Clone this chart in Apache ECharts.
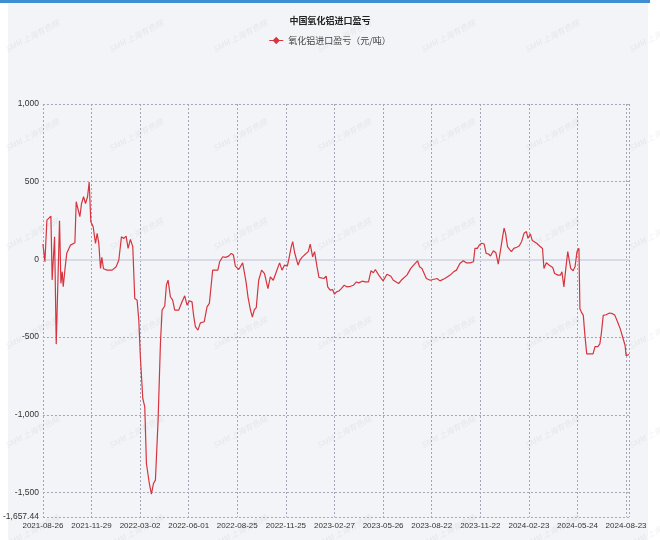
<!DOCTYPE html>
<html>
<head>
<meta charset="utf-8">
<script src="https://cdn.jsdelivr.net/npm/echarts@6.0.0/dist/echarts.min.js"></script>
<style>
    body { margin: 0; background: #ffffff; }
    #wrap { position: relative; width: 660px; height: 540px; }
    #topbar { position: absolute; left: 0; top: 0; width: 650px; height: 3px; background: #3d8ed3; }
    #panel { position: absolute; left: 8px; top: 3px; width: 640px; height: 537px; background: #f3f4f7; }
    #main { position: absolute; left: 0; top: 0; width: 660px; height: 540px; }
</style>
</head>
<body>
<div id="wrap">
    <div id="topbar"></div>
    <div id="panel"></div>
    <div id="main"></div>
</div>
<script>
// x 轴标签（等间距交易日）
var dateLabels = ['2021-08-26', '2021-11-29', '2022-03-02', '2022-06-01', '2022-08-25', '2022-11-25',
    '2023-02-27', '2023-05-26', '2023-08-22', '2023-11-22', '2024-02-23', '2024-05-24', '2024-08-23'];
var xTicks = [0, 1, 2, 3, 4, 5, 6, 7, 8, 9, 10, 11, 12, 12.06];
var yTicks = [-1657.44, -1500, -1000, -500, 0, 500, 1000];

// 位置（以标签间隔为单位）
var xPos = [0, 0.041, 0.082, 0.123, 0.164, 0.19, 0.24, 0.274, 0.315, 0.342, 0.37, 0.397, 0.418, 0.452, 0.49,
    0.568, 0.658, 0.685, 0.719, 0.76, 0.795, 0.836, 0.877, 0.918, 0.952, 0.986, 1.034, 1.082, 1.116, 1.15,
    1.185, 1.212, 1.247, 1.32, 1.425, 1.507, 1.562, 1.616, 1.664, 1.712, 1.753, 1.8, 1.849, 1.89, 1.938,
    1.973, 2.007, 2.055, 2.096, 2.13, 2.19, 2.233, 2.274, 2.315, 2.37, 2.418, 2.452, 2.507, 2.541, 2.575,
    2.623, 2.67, 2.712, 2.795, 2.863, 2.918, 2.966, 3.014, 3.068, 3.1, 3.137, 3.19, 3.24, 3.32, 3.377,
    3.425, 3.466, 3.493, 3.6, 3.637, 3.7, 3.76, 3.82, 3.877, 3.92, 3.96, 4.03,
    4.07, 4.11, 4.14, 4.18, 4.22, 4.27, 4.31, 4.35, 4.39, 4.44, 4.46, 4.5, 4.56, 4.63, 4.68, 4.74, 4.79,
    4.83, 4.87, 4.92, 4.97, 5.03, 5.07, 5.11, 5.14, 5.18, 5.21, 5.25, 5.29, 5.33, 5.38, 5.42, 5.46, 5.5,
    5.55, 5.59, 5.64, 5.68, 5.72, 5.78, 5.83, 5.86, 5.91, 5.96, 6.0, 6.04, 6.09, 6.14, 6.18, 6.2, 6.26,
    6.33, 6.39, 6.45, 6.5, 6.57, 6.63, 6.70, 6.75, 6.80, 6.84, 6.91, 7.0, 7.08, 7.16, 7.21, 7.32, 7.39,
    7.49, 7.57, 7.66, 7.71, 7.75, 7.80, 7.89, 7.97, 8.11, 8.17, 8.27, 8.38, 8.45, 8.51, 8.58, 8.65, 8.71,
    8.79, 8.86, 8.89, 8.94, 8.98, 9.03, 9.08, 9.12, 9.17, 9.21, 9.27, 9.32, 9.37, 9.40, 9.46, 9.49, 9.52,
    9.56, 9.60, 9.64, 9.69, 9.75, 9.80, 9.85, 9.90, 9.95, 9.98, 10.03, 10.07, 10.16, 10.22, 10.28, 10.31,
    10.36, 10.42, 10.49, 10.53, 10.60, 10.65, 10.68, 10.72, 10.76, 10.80, 10.83, 10.86, 10.91, 10.95,
    10.99, 11.03, 11.05, 11.08, 11.12, 11.15, 11.19, 11.22, 11.32, 11.36, 11.42, 11.46, 11.49, 11.53,
    11.59, 11.66, 11.72, 11.77, 11.80, 11.84, 11.88, 11.92, 11.95, 11.98, 12.0, 12.04, 12.06];

// 氧化铝进口盈亏（元/吨）
var profit = [99, -15, 253, 253, 279, -133, 146, -545, -545, 249, -154, -79, -176, -69, 39,
    92, 107, 371, 371, 275, 360, 403, 360, 403, 498, 242, 210, 103, 167, 103,
    -58, 13, -60, -69, -69, -47, -4, 146, 135, 150, 71, 129, 82, -251, -262,
    -390, -637, -895, -949, -1313, -1442, -1510, -1442, -1420, -1034, -541, -326, -300, -165, -133,
    -240, -262, -326, -326, -273, -234, -294, -266, -273, -358, -433, -455, -408, -401, -305,
    -283, -155, -69, -69, -15, 17, 13, 21, 39, 28, -43, -65,
    -73, -22, -30, -145, -242, -324, -371, -324, -310, -134, -138, -69, -91, -188, -112, -134, -91,
    -80, -22, -69, -37, -43, 17, 82, 114, 43, 39, -37, -4, 13, 28, 17, 50, 99,
    17, 50, -47, -116, -108, -123, -108, -177, -198, -194, -224, -209, -203, -188, -198, -166, -177,
    -173, -166, -145, -151, -140, -145, -145, -73, -86, -65, -101, -138, -95, -108, -134, -155, -129,
    -101, -58, -26, -9, -47, -58, -123, -134, -123, -138, -123, -101, -80, -69, -26, -9, -22,
    -22, -15, 71, 71, 93, 104, 99, 39, 35, 22, 56, 43, -30, 28, 147, 201, 168,
    82, 65, 50, 71, 78, 86, 114, 168, 179, 136, 164, 121, 104, 86, 70, -58,
    -22, -37, -52, -91, -101, -101, -80, -177, -58, 50, -4, -58, -73, -47,
    50, 71, -317, -339, -360, -479, -608, -604, -608, -561, -561, -544, -479, -360,
    -356, -345, -349, -360, -371, -414, -447, -453, -522, -554, -619, -608, -612];

var seriesData = xPos.map(function (x, i) { return [x, profit[i]]; });

var labelFont = "'Liberation Sans', sans-serif";
var gridLine = { show: true, lineStyle: { color: '#a3a6b8', width: 1, type: [2, 2] } };

// 水印
var marks = [];
for (var r = 0; r < 6; r++) {
    for (var c = 0; c < 7; c++) {
        marks.push({
            type: 'text',
            x: 32 + c * 104,
            y: 36 + r * 99,
            rotation: 0.48,
            silent: true,
            z: -10,
            style: {
                text: 'SMM 上海有色网',
                fill: 'rgba(140,140,155,0.13)',
                font: 'italic 8px "Noto Sans CJK SC"',
                align: 'center',
                verticalAlign: 'middle'
            }
        });
    }
}

var chart = echarts.init(document.getElementById('main'));
var option = {
    animation: false,
    backgroundColor: 'transparent',
    graphic: marks,
    title: {
        text: '中国氧化铝进口盈亏',
        left: 'center',
        top: 11,
        textStyle: { fontSize: 9, fontWeight: 'bold', color: '#222', fontFamily: 'Noto Sans CJK SC' }
    },
    legend: {
        top: 31,
        left: 'center',
        itemWidth: 14,
        itemHeight: 9,
        itemGap: 4,
        data: [{
            name: '氧化铝进口盈亏（元/吨）',
            icon: 'path://M0,4.4 H14 V5.6 H0 Z M7,1.2 L10.6,5 L7,8.8 L3.4,5 Z'
        }],
        textStyle: { fontSize: 9, color: '#444', fontFamily: 'Noto Sans CJK SC' }
    },
    grid: { left: 42, right: 31, top: 104, bottom: 23 },
    xAxis: {
        type: 'value',
        min: 0,
        max: 12.06,
        axisLine: { show: false },
        axisTick: { show: false, customValues: xTicks },
        splitLine: gridLine,
        axisLabel: {
            customValues: [0, 1, 2, 3, 4, 5, 6, 7, 8, 9, 10, 11, 12],
            margin: 5,
            fontSize: 8,
            color: '#333',
            fontFamily: labelFont,
            formatter: function (v) { return dateLabels[Math.round(v)]; }
        }
    },
    yAxis: {
        type: 'value',
        min: -1657.44,
        max: 1000,
        axisLine: { show: false },
        axisTick: { show: false, customValues: yTicks },
        splitLine: gridLine,
        axisLabel: {
            customValues: yTicks,
            margin: 4,
            fontSize: 8.5,
            color: '#333',
            fontFamily: labelFont,
            formatter: function (v) {
                return v.toLocaleString('en-US', { maximumFractionDigits: 2 });
            }
        }
    },
    series: [{
        name: '氧化铝进口盈亏（元/吨）',
        type: 'line',
        data: seriesData,
        showSymbol: false,
        symbol: 'none',
        color: '#d6343e',
        lineStyle: { color: '#d6343e', width: 1.2 },
        markLine: {
            silent: true,
            symbol: ['none', 'none'],
            label: { show: false },
            lineStyle: { color: '#d9dae7', width: 2, type: 'solid' },
            data: [{ yAxis: 0 }],
            z: 1
        }
    }]
};
chart.setOption(option);
</script>
</body>
</html>
